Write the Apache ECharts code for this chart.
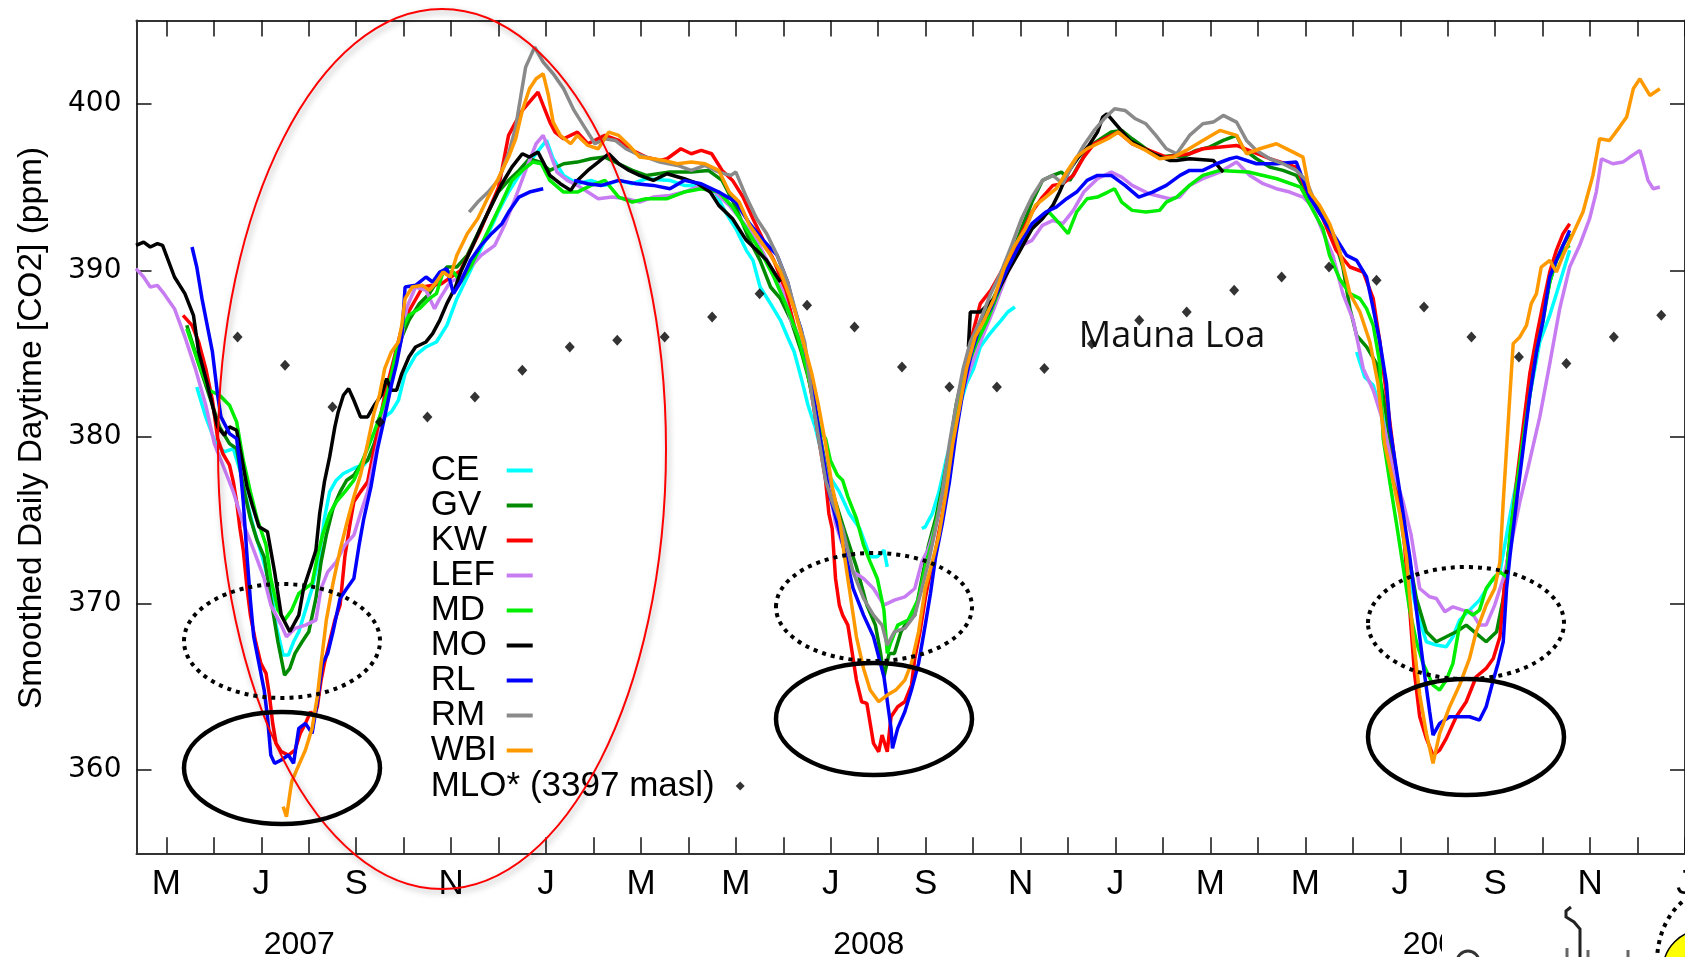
<!DOCTYPE html>
<html>
<head>
<meta charset="utf-8">
<script src="https://cdn.jsdelivr.net/npm/echarts@6/dist/echarts.min.js"></script>
<style>
html,body{margin:0;padding:0;background:#fff;}
#chart{width:1685px;height:957px;}
</style>
</head>
<body>
<div id="chart"></div>
<script>
// x values: months since 1 Jan 2007 (4 = May 2007, 36 = Jan 2010); y values: CO2 ppm
const monthLetters = ['J','F','M','A','M','J','J','A','S','O','N','D'];
const monthTicks = [4,5,6,7,8,9,10,11,12,13,14,15,16,17,18,19,20,21,22,23,24,25,26,27,28,29,30,31,32,33,34,35,36];
const monthLabels = [4,6,8,10,12,14,16,18,20,22,24,26,28,30,32,34,36];
const yearPositions = [6.8, 18.8, 30.8];
const yearLabels = ['2007','2008','2009'];
const ppmTicks = [360,370,380,390,400];

const stationNames = ['CE','GV','KW','LEF','MD','MO','RL','RM','WBI'];
const stationColors = ['#00ffff','#008a00','#ff0000','#c77cf2','#00ee00','#000000','#0000ff','#8a8a8a','#ff9900'];
const mloName = 'MLO* (3397 masl)';

const CE = [[4.64,383.0],[4.83,381.2],[5.04,379.6],[5.22,379.1],[5.41,379.3],[5.55,378.0],[5.70,376.1],[5.84,374.5],[6.02,372.8],[6.20,370.9],[6.31,368.7],[6.46,366.9],[6.57,366.9],[6.68,367.7],[6.79,368.3],[6.93,369.6],[7.07,370.9],[7.22,372.8],[7.33,375.1],[7.44,376.7],[7.58,377.4],[7.73,377.8],[7.87,378.0],[8.02,378.2],[8.16,378.3],[8.31,378.9],[8.45,380.3],[8.60,381.2],[8.74,381.5],[8.89,382.2],[9.03,383.8],[9.25,384.9],[9.47,385.4],[9.69,385.7],[9.91,386.7],[10.12,388.3],[10.34,389.6],[10.56,390.9],[10.78,392.2],[10.99,393.5],[11.21,394.7],[11.43,395.7],[11.65,396.5],[11.87,397.3],[12.01,397.8],[12.15,396.7],[12.37,395.7],[12.66,395.2],[12.95,395.4],[13.24,395.1],[13.53,395.4],[13.82,395.2],[14.11,395.5],[14.61,395.4],[14.91,395.1],[15.27,395.1],[15.56,394.7],[15.78,393.5],[16.00,392.5],[16.22,391.2],[16.36,390.6],[16.51,389.0],[16.73,388.0],[16.94,387.0],[17.09,386.0],[17.23,385.1],[17.38,383.5],[17.52,381.9],[17.67,380.6],[17.81,379.0],[17.96,377.7],[18.18,376.7],[18.39,375.4],[18.61,374.5],[18.83,372.8],[18.98,372.8],[19.12,373.2],[19.19,372.2],[19.5,null],[19.92,374.5],[19.99,374.6],[20.14,375.4],[20.28,376.7],[20.43,378.6],[20.57,380.2],[20.72,381.9],[20.86,383.2],[21.01,384.1],[21.15,385.4],[21.30,386.0],[21.44,386.5],[21.59,387.0],[21.73,387.5],[21.88,387.8],[25.0,null],[29.08,385.1],[29.25,383.6],[29.43,383.1],[29.64,381.2],[29.78,379.3],[29.92,376.7],[30.06,374.1],[30.20,371.5],[30.34,369.6],[30.55,367.7],[30.76,367.5],[30.97,367.4],[31.11,368.0],[31.25,369.0],[31.46,369.6],[31.67,370.2],[31.89,371.2],[32.10,371.9],[32.24,374.1],[32.34,375.7],[32.52,378.3],[32.73,382.5],[32.94,385.7],[33.15,387.3],[33.29,388.6],[33.43,389.9],[33.57,391.2]];

const GV = [[4.43,386.7],[4.68,384.4],[4.90,382.5],[5.12,380.6],[5.33,379.6],[5.48,379.3],[5.62,377.0],[5.77,375.1],[5.91,373.8],[6.06,372.8],[6.20,370.3],[6.35,367.7],[6.49,365.7],[6.60,366.1],[6.71,367.0],[6.86,367.7],[7.00,368.3],[7.15,370.3],[7.26,372.5],[7.37,374.1],[7.51,375.7],[7.66,376.7],[7.80,377.4],[7.95,377.7],[8.09,378.3],[8.24,378.6],[8.38,379.6],[8.53,380.9],[8.67,382.5],[8.82,384.4],[8.96,386.0],[9.11,387.0],[9.33,388.0],[9.54,388.6],[9.76,389.6],[9.91,390.2],[10.12,390.2],[10.34,390.9],[10.56,392.2],[10.78,393.5],[10.99,394.7],[11.21,395.4],[11.43,396.0],[11.65,396.7],[11.87,396.5],[12.08,396.0],[12.37,396.4],[12.66,396.5],[12.95,396.7],[13.24,396.8],[13.53,396.4],[13.82,396.0],[14.11,395.7],[14.61,395.9],[15.06,395.9],[15.42,396.0],[15.71,395.4],[16.00,393.8],[16.29,391.8],[16.51,390.6],[16.73,389.0],[16.94,388.3],[17.16,387.0],[17.38,385.1],[17.56,383.2],[17.74,380.6],[17.89,378.3],[18.10,376.1],[18.32,374.1],[18.54,372.2],[18.76,369.9],[18.94,368.7],[19.05,367.0],[19.12,365.6],[19.23,367.0],[19.34,367.0],[19.48,368.3],[19.63,369.0],[19.77,369.3],[19.92,371.5],[20.06,373.5],[20.21,375.1],[20.35,377.0],[20.50,379.3],[20.64,381.9],[20.79,383.8],[20.94,385.1],[21.15,386.7],[21.37,388.0],[21.59,389.3],[21.81,390.9],[22.02,392.5],[22.24,394.1],[22.46,395.4],[22.68,395.7],[22.86,395.9],[23.04,395.4],[23.26,396.5],[23.48,397.5],[23.69,397.9],[23.91,398.3],[24.13,398.4],[24.35,397.9],[24.64,397.3],[24.93,396.8],[25.22,396.9],[25.42,396.8],[25.70,397.2],[25.98,397.4],[26.27,397.8],[26.55,398.1],[26.69,397.3],[26.97,396.7],[27.25,396.2],[27.53,396.0],[27.81,395.7],[28.09,394.4],[28.37,393.5],[28.58,392.2],[28.79,390.2],[28.94,387.7],[29.08,386.1],[29.29,385.4],[29.50,384.4],[29.64,382.5],[29.78,379.9],[29.92,377.3],[30.06,374.8],[30.20,372.5],[30.34,370.3],[30.55,368.3],[30.76,367.7],[30.97,368.0],[31.18,368.3],[31.39,368.7],[31.60,368.2],[31.81,367.7],[32.03,368.3],[32.17,370.3],[32.27,372.8],[32.45,376.7],[32.59,379.9],[32.73,382.8],[32.87,385.1],[33.01,387.3],[33.15,389.3],[33.29,390.6],[33.43,391.5],[33.57,392.2]];

const KW = [[4.35,387.3],[4.54,386.7],[4.68,385.7],[4.83,384.1],[4.97,382.2],[5.08,379.9],[5.19,379.0],[5.33,378.3],[5.41,377.3],[5.48,376.1],[5.55,374.5],[5.62,373.2],[5.70,370.9],[5.77,369.3],[5.88,367.7],[5.99,366.4],[6.10,365.8],[6.17,364.5],[6.24,362.8],[6.31,361.6],[6.42,361.1],[6.57,360.9],[6.71,361.2],[6.82,362.2],[6.93,362.8],[7.04,363.5],[7.11,363.2],[7.18,363.8],[7.26,365.4],[7.33,366.4],[7.44,367.7],[7.55,369.0],[7.66,369.9],[7.76,372.8],[7.87,374.8],[7.95,376.1],[8.09,376.7],[8.24,377.3],[8.31,378.3],[8.60,382.5],[9.00,387.0],[9.40,389.0],[9.80,389.2],[10.20,390.0],[10.60,392.3],[11.00,395.0],[11.21,398.1],[11.36,398.9],[11.50,399.6],[11.68,400.2],[11.83,400.7],[11.94,399.9],[12.08,398.9],[12.19,398.3],[12.37,397.9],[12.66,398.3],[12.88,397.6],[13.24,398.1],[13.53,397.8],[13.82,397.2],[14.11,396.8],[14.40,396.6],[14.55,396.7],[14.84,397.3],[15.06,397.0],[15.27,397.2],[15.49,397.0],[15.71,396.0],[15.93,395.4],[16.15,394.4],[16.36,393.1],[16.58,391.8],[16.80,390.6],[17.02,389.0],[17.23,386.7],[17.45,384.8],[17.60,382.5],[17.74,380.0],[17.89,377.4],[17.96,375.4],[18.03,374.5],[18.10,371.5],[18.18,369.9],[18.25,369.3],[18.36,368.7],[18.47,366.7],[18.54,365.4],[18.65,364.1],[18.76,364.0],[18.90,361.6],[19.01,361.1],[19.08,362.1],[19.19,361.1],[19.27,363.2],[19.41,363.8],[19.56,364.1],[19.70,365.1],[19.77,366.7],[19.88,368.3],[19.99,370.3],[20.10,371.9],[20.21,373.2],[20.35,375.4],[20.50,378.3],[20.64,381.2],[20.79,383.8],[20.97,386.0],[21.15,388.0],[21.37,388.8],[21.59,389.9],[21.81,390.9],[22.02,392.2],[22.24,393.5],[22.46,394.4],[22.68,395.1],[22.89,395.2],[23.11,395.7],[23.33,396.8],[23.55,397.6],[23.76,397.9],[24.06,398.3],[24.35,397.6],[24.71,397.2],[25.07,396.8],[25.56,397.0],[25.84,397.3],[26.55,397.5],[27.25,396.7],[27.81,396.2],[28.09,394.4],[28.37,393.1],[28.65,391.2],[28.94,390.2],[29.22,389.9],[29.43,388.3],[29.57,385.7],[29.71,382.5],[29.85,379.3],[29.99,376.1],[30.09,373.5],[30.20,369.6],[30.30,365.8],[30.41,363.2],[30.55,361.9],[30.69,360.9],[30.83,361.2],[30.97,361.9],[31.18,363.2],[31.39,364.1],[31.60,365.6],[31.81,366.1],[31.96,366.7],[32.10,368.0],[32.20,371.2],[32.31,373.8],[32.45,377.3],[32.59,380.6],[32.73,383.8],[32.87,386.0],[33.01,388.0],[33.15,389.9],[33.29,391.2],[33.43,392.2],[33.57,392.8]];

const LEF = [[3.36,390.1],[3.52,389.6],[3.66,389.0],[3.81,389.1],[3.95,388.6],[4.17,387.7],[4.39,386.0],[4.61,384.1],[4.83,381.9],[5.01,379.6],[5.19,378.3],[5.41,376.7],[5.62,374.8],[5.84,373.2],[6.06,371.5],[6.20,369.9],[6.42,368.7],[6.53,368.0],[6.71,368.5],[6.93,368.7],[7.15,369.0],[7.26,370.9],[7.40,371.9],[7.58,372.5],[7.76,373.5],[7.95,374.1],[8.09,375.4],[8.24,376.7],[8.38,378.6],[8.53,380.6],[8.67,382.8],[8.82,384.4],[8.96,386.0],[9.07,387.8],[9.25,389.0],[9.47,388.8],[9.65,387.7],[9.76,388.3],[9.98,389.3],[10.20,389.6],[10.41,390.2],[10.63,390.9],[10.92,391.5],[11.14,392.8],[11.36,394.4],[11.57,396.0],[11.79,397.6],[11.94,398.1],[12.05,397.3],[12.23,395.9],[12.45,395.4],[12.66,395.1],[12.88,394.7],[13.10,394.3],[13.39,394.4],[13.68,394.3],[13.97,394.1],[14.26,394.4],[14.61,394.5],[14.91,394.7],[15.27,395.1],[15.56,394.7],[15.86,393.9],[16.15,392.9],[16.44,391.8],[16.73,390.2],[16.98,388.8],[17.16,387.0],[17.38,385.7],[17.52,384.1],[17.67,381.9],[17.81,379.3],[17.96,377.0],[18.10,374.8],[18.25,373.5],[18.47,371.9],[18.69,371.5],[18.90,370.9],[19.12,369.9],[19.34,370.2],[19.56,370.4],[19.77,370.9],[19.92,372.5],[20.06,373.3],[20.25,375.1],[20.43,377.7],[20.61,380.6],[20.75,382.5],[20.94,384.1],[21.15,385.7],[21.44,387.7],[21.73,389.9],[22.02,391.5],[22.24,391.8],[22.46,392.7],[22.68,393.0],[22.89,392.8],[23.11,393.6],[23.33,394.7],[23.62,395.5],[23.91,395.9],[24.13,395.6],[24.35,395.1],[24.71,394.6],[25.14,394.3],[25.35,394.4],[25.56,395.1],[25.84,395.5],[26.20,395.9],[26.55,396.5],[26.83,395.7],[27.11,395.2],[27.39,394.9],[27.67,394.7],[27.95,394.4],[28.16,393.8],[28.37,392.3],[28.58,390.9],[28.79,388.6],[29.01,387.0],[29.22,384.1],[29.43,382.8],[29.64,380.9],[29.85,378.0],[30.06,376.1],[30.23,374.1],[30.41,370.9],[30.62,370.4],[30.76,370.3],[30.94,369.5],[31.11,369.8],[31.32,369.6],[31.50,369.5],[31.67,368.7],[31.81,368.7],[31.99,369.9],[32.17,371.5],[32.31,373.2],[32.52,376.1],[32.73,378.6],[32.94,381.2],[33.15,384.4],[33.36,387.7],[33.57,390.2],[33.78,391.5],[33.99,393.1],[34.13,394.7],[34.24,396.7],[34.48,396.4],[34.69,396.5],[34.84,396.8],[35.05,397.2],[35.12,396.5],[35.22,395.4],[35.33,394.9],[35.47,395.0]];

const MD = [[4.43,386.5],[4.68,384.4],[4.90,382.8],[5.12,382.5],[5.33,381.9],[5.48,380.9],[5.62,378.6],[5.77,376.7],[5.91,375.1],[6.10,373.5],[6.20,371.5],[6.35,369.6],[6.49,369.0],[6.64,369.6],[6.79,370.6],[6.93,370.9],[7.07,371.2],[7.18,372.8],[7.29,374.1],[7.44,375.4],[7.58,376.1],[7.76,376.7],[7.95,377.4],[8.09,378.3],[8.24,379.3],[8.38,380.3],[8.53,381.5],[8.67,382.8],[8.82,384.8],[8.96,386.4],[9.11,387.3],[9.33,387.7],[9.54,388.3],[9.69,388.6],[9.83,389.9],[10.05,389.9],[10.20,389.3],[10.41,390.2],[10.63,391.5],[10.85,392.8],[11.07,394.1],[11.28,395.4],[11.50,396.0],[11.72,396.5],[11.90,396.4],[12.08,395.4],[12.37,394.7],[12.66,394.7],[12.95,395.1],[13.24,395.4],[13.53,394.4],[13.82,394.1],[14.11,394.3],[14.55,394.3],[14.91,394.7],[15.27,394.9],[15.64,394.7],[15.93,393.8],[16.22,392.5],[16.51,391.2],[16.80,389.6],[17.09,387.7],[17.31,386.0],[17.49,384.1],[17.63,382.2],[17.78,380.3],[17.89,379.9],[17.99,378.6],[18.14,377.7],[18.25,377.4],[18.36,376.4],[18.54,375.1],[18.69,373.5],[18.83,372.5],[18.98,371.5],[19.12,369.6],[19.19,367.0],[19.27,367.7],[19.41,368.7],[19.63,369.0],[19.85,370.3],[19.99,372.2],[20.14,373.8],[20.28,375.7],[20.43,378.0],[20.57,380.6],[20.72,382.5],[20.86,384.1],[21.08,385.7],[21.30,387.0],[21.52,388.6],[21.73,390.2],[21.95,391.2],[22.17,392.2],[22.39,393.1],[22.60,393.5],[22.82,392.8],[23.00,392.2],[23.18,393.5],[23.40,394.3],[23.62,394.4],[23.84,394.7],[23.98,394.9],[24.13,394.1],[24.35,393.6],[24.64,393.5],[24.93,393.6],[25.07,394.1],[25.29,394.4],[25.56,395.1],[25.84,395.7],[26.20,396.0],[26.80,395.9],[27.40,395.5],[27.90,395.0],[28.37,392.5],[28.51,390.9],[28.72,389.5],[28.94,388.6],[29.15,388.3],[29.29,387.7],[29.43,386.7],[29.57,384.4],[29.64,379.9],[29.78,377.3],[29.92,374.8],[30.06,372.2],[30.20,369.6],[30.34,367.7],[30.48,366.4],[30.69,365.1],[30.83,364.8],[30.97,365.4],[31.11,366.4],[31.25,368.7],[31.39,369.6],[31.53,369.3],[31.67,369.6],[31.81,370.9],[31.96,371.5],[32.10,371.9],[32.24,371.6],[32.31,374.1],[32.45,377.0],[32.59,379.9],[32.73,382.5],[32.87,385.1],[33.01,387.0],[33.15,389.3],[33.29,390.6],[33.43,391.2],[33.57,391.5]];

const MO = [[3.36,391.5],[3.52,391.7],[3.66,391.4],[3.81,391.6],[3.92,391.5],[4.17,389.6],[4.39,388.6],[4.57,387.3],[4.68,385.1],[4.86,383.2],[5.08,380.6],[5.22,380.1],[5.33,380.6],[5.48,380.4],[5.55,379.3],[5.70,377.0],[5.81,375.9],[5.95,374.6],[6.13,374.3],[6.28,371.9],[6.42,369.3],[6.60,368.3],[6.79,369.3],[6.89,370.9],[7.04,372.2],[7.15,373.2],[7.23,375.4],[7.33,377.3],[7.44,378.8],[7.55,380.6],[7.62,381.5],[7.73,382.5],[7.84,382.9],[7.95,382.2],[8.09,381.2],[8.24,381.2],[8.38,381.9],[8.53,382.5],[8.64,383.5],[8.74,382.8],[8.85,382.8],[8.96,383.8],[9.11,384.8],[9.25,385.4],[9.47,385.7],[9.61,386.2],[9.76,387.0],[9.91,388.0],[10.09,389.0],[10.20,389.9],[10.41,391.2],[10.63,392.6],[10.85,393.9],[11.07,395.2],[11.28,396.2],[11.50,397.0],[11.65,396.8],[11.83,397.1],[11.94,396.5],[12.08,395.7],[12.30,395.2],[12.52,394.8],[12.66,395.4],[12.88,396.0],[13.10,396.5],[13.32,397.0],[13.53,396.4],[13.75,396.0],[13.97,395.7],[14.26,395.4],[14.55,395.8],[14.91,395.5],[15.20,395.2],[15.46,394.7],[15.64,393.9],[15.93,393.1],[16.22,391.8],[16.44,391.2],[16.65,390.6],[16.87,389.6],[16.94,389.3],[18.9,null],[20.90,385.4],[20.94,387.5],[21.15,387.5],[21.44,388.3],[21.73,389.9],[21.99,391.2],[22.24,392.5],[22.46,393.1],[22.68,393.9],[22.82,394.7],[23.00,395.9],[23.22,396.8],[23.44,397.5],[23.62,398.3],[23.73,399.2],[23.82,399.4],[24.30,397.8],[24.80,397.0],[25.14,396.6],[25.28,396.6],[25.56,396.7],[26.06,396.6],[26.27,395.9]];

const RL = [[4.54,391.4],[4.64,390.2],[4.75,388.3],[4.86,386.7],[4.97,385.1],[5.08,382.5],[5.15,381.2],[5.33,380.2],[5.48,379.9],[5.55,378.3],[5.62,376.1],[5.70,372.8],[5.77,370.2],[5.84,368.0],[5.95,366.4],[6.06,364.8],[6.13,363.2],[6.20,360.9],[6.28,360.4],[6.42,360.6],[6.57,360.9],[6.68,360.4],[6.79,362.5],[6.93,362.8],[7.07,362.2],[7.18,364.1],[7.29,366.4],[7.40,367.0],[7.51,368.3],[7.66,370.3],[7.80,370.9],[7.95,371.5],[8.06,373.5],[8.16,375.1],[8.31,377.0],[8.45,379.3],[8.60,381.2],[8.74,383.1],[8.85,384.4],[8.96,386.0],[9.03,389.0],[9.25,389.1],[9.47,389.6],[9.61,389.3],[9.76,389.9],[9.91,390.1],[10.05,388.6],[10.20,389.3],[10.41,390.6],[10.63,391.5],[10.85,392.2],[11.07,392.8],[11.21,393.5],[11.43,394.4],[11.65,394.7],[11.94,394.9],[12.2,null],[12.59,395.4],[12.88,395.2],[13.17,395.1],[13.53,395.4],[13.90,395.2],[14.26,395.1],[14.61,394.9],[14.91,395.4],[15.27,395.2],[15.64,394.7],[16.00,394.1],[16.29,392.8],[16.58,391.8],[16.87,390.9],[17.09,389.3],[17.23,387.7],[17.38,386.4],[17.52,384.4],[17.67,381.9],[17.81,379.3],[17.96,376.7],[18.14,374.8],[18.32,372.8],[18.47,370.9],[18.69,369.3],[18.90,368.0],[19.12,365.6],[19.27,362.5],[19.30,361.3],[19.41,362.5],[19.56,363.5],[19.70,364.8],[19.85,366.4],[19.99,368.7],[20.10,370.6],[20.21,372.8],[20.35,374.8],[20.50,377.3],[20.64,380.2],[20.79,382.8],[20.97,385.1],[21.15,386.7],[21.37,387.7],[21.59,389.3],[21.81,390.6],[22.02,391.8],[22.24,392.8],[22.53,393.5],[22.75,393.8],[22.97,394.3],[23.18,394.7],[23.40,395.4],[23.62,395.7],[23.91,395.7],[24.20,395.1],[24.49,394.4],[24.78,394.7],[25.07,395.1],[25.36,395.7],[25.56,396.0],[25.84,396.0],[26.13,396.4],[26.41,396.7],[26.55,396.8],[26.97,396.4],[27.39,396.4],[27.81,396.5],[28.09,394.4],[28.44,392.8],[28.65,391.9],[28.87,390.9],[29.08,390.6],[29.29,389.6],[29.43,387.7],[29.57,385.7],[29.71,383.2],[29.78,380.6],[29.92,378.0],[30.06,375.4],[30.20,372.8],[30.34,369.6],[30.48,366.4],[30.62,363.5],[30.69,362.1],[30.83,362.8],[31.04,363.2],[31.25,363.2],[31.46,363.2],[31.67,363.0],[31.81,363.8],[31.96,365.4],[32.06,366.4],[32.17,367.7],[32.24,370.9],[32.31,372.8],[32.45,376.1],[32.59,379.3],[32.73,382.5],[32.87,385.1],[33.01,387.0],[33.15,389.6],[33.29,390.6],[33.43,391.5],[33.57,392.4]];

const RM = [[10.38,393.5],[10.56,394.1],[10.78,394.7],[10.99,395.4],[11.21,397.0],[11.36,398.6],[11.47,400.5],[11.57,402.2],[11.76,403.4],[11.94,402.5],[12.15,401.8],[12.37,400.9],[12.59,399.6],[12.81,398.6],[13.03,397.6],[13.24,397.9],[13.46,397.8],[13.68,397.3],[13.90,397.0],[14.11,396.8],[14.40,396.5],[14.77,396.3],[15.06,396.0],[15.35,396.3],[15.64,395.9],[15.89,395.7],[16.00,395.9],[16.22,394.4],[16.44,393.1],[16.65,392.2],[16.87,390.9],[17.09,389.3],[17.31,387.0],[17.45,385.7],[17.60,382.5],[17.74,380.0],[17.89,377.4],[18.03,376.1],[18.25,374.5],[18.47,371.9],[18.69,370.3],[18.90,369.3],[19.08,368.7],[19.19,367.5],[19.34,368.3],[19.56,368.5],[19.77,369.3],[19.92,370.9],[20.06,372.5],[20.21,374.5],[20.35,376.7],[20.50,379.6],[20.64,381.9],[20.79,384.1],[20.94,385.7],[21.15,387.0],[21.37,388.6],[21.59,389.9],[21.81,391.5],[22.02,393.1],[22.24,394.4],[22.46,395.4],[22.68,395.7],[22.89,395.2],[23.11,396.4],[23.33,397.5],[23.55,398.4],[23.76,399.1],[23.98,399.7],[24.20,399.6],[24.42,399.1],[24.64,398.8],[24.85,398.1],[25.07,397.3],[25.29,397.0],[25.56,398.1],[25.84,398.8],[26.06,398.9],[26.27,399.3],[26.55,398.9],[26.76,397.8],[26.97,397.2],[27.25,396.7],[27.53,396.4],[27.81,396.0],[28.02,395.4],[28.16,394.4]];

const WBI = [[6.46,357.8],[6.53,357.2],[6.64,359.3],[6.79,360.3],[6.93,361.2],[7.07,362.5],[7.18,364.4],[7.26,366.4],[7.37,369.0],[7.51,371.2],[7.66,373.2],[7.80,374.8],[7.95,376.4],[8.09,377.7],[8.24,379.6],[8.38,381.5],[8.49,382.5],[8.60,384.1],[8.74,385.1],[8.89,385.7],[8.96,386.7],[9.03,388.3],[9.18,389.0],[9.40,389.1],[9.54,388.8],[9.69,389.3],[9.83,389.9],[9.98,389.6],[10.12,390.9],[10.34,392.2],[10.56,393.1],[10.78,394.4],[10.99,395.5],[11.21,396.8],[11.36,397.9],[11.50,399.6],[11.65,400.9],[11.79,401.5],[11.94,401.8],[12.05,400.5],[12.15,398.9],[12.30,398.1],[12.52,397.6],[12.66,398.1],[12.88,397.5],[13.10,397.3],[13.32,398.3],[13.53,398.1],[13.75,397.5],[13.97,396.8],[14.26,396.7],[14.48,396.6],[14.77,396.4],[15.06,396.5],[15.35,396.4],[15.64,396.0],[15.86,394.7],[16.07,394.1],[16.29,392.7],[16.51,391.8],[16.73,390.9],[16.94,389.9],[17.23,387.7],[17.45,385.4],[17.60,383.8],[17.74,381.9],[17.89,379.6],[18.03,377.0],[18.18,375.1],[18.29,372.8],[18.39,370.9],[18.54,368.0],[18.69,366.1],[18.83,364.8],[19.01,364.1],[19.19,364.5],[19.37,364.8],[19.56,365.4],[19.70,366.4],[19.85,368.3],[19.99,370.9],[20.14,372.5],[20.28,374.1],[20.43,376.7],[20.57,379.6],[20.72,381.9],[20.86,384.1],[21.04,386.0],[21.23,387.0],[21.44,388.3],[21.66,390.2],[21.88,391.5],[22.10,392.5],[22.31,393.9],[22.53,394.4],[22.75,394.9],[22.97,395.9],[23.18,396.8],[23.40,397.3],[23.62,397.6],[23.84,397.9],[24.06,398.3],[24.35,397.6],[24.64,397.2],[24.93,396.7],[25.22,396.8],[25.49,397.2],[25.84,397.8],[26.20,398.4],[26.55,398.1],[26.76,397.0],[27.04,397.3],[27.39,397.6],[27.67,397.2],[27.95,396.8],[28.09,394.7],[28.30,393.9],[28.51,392.8],[28.72,391.2],[28.94,388.6],[29.15,387.5],[29.36,385.7],[29.53,383.2],[29.67,379.6],[29.85,377.3],[29.99,375.4],[30.13,372.8],[30.27,368.0],[30.41,364.5],[30.55,362.2],[30.69,360.4],[30.83,362.2],[31.04,363.8],[31.25,365.1],[31.46,366.7],[31.60,368.3],[31.81,369.9],[31.99,370.9],[32.10,372.5],[32.17,376.1],[32.24,379.3],[32.31,382.5],[32.38,385.6],[32.52,386.0],[32.66,386.7],[32.76,388.0],[32.87,388.6],[32.97,390.2],[33.15,390.6],[33.29,389.9],[33.43,390.9],[33.64,392.2],[33.85,393.5],[34.06,395.7],[34.20,397.9],[34.41,397.8],[34.62,398.6],[34.77,399.2],[34.91,400.9],[35.05,401.5],[35.26,400.5],[35.47,400.9]];

const MLO = [[5.5,386.0],[6.5,384.3],[7.5,381.8],[8.5,380.9],[9.5,381.2],[10.5,382.4],[11.5,384.0],[12.5,385.4],[13.5,385.8],[14.5,386.0],[15.5,387.2],[16.5,388.6],[17.5,387.9],[18.5,386.6],[19.5,384.2],[20.5,383.0],[21.5,383.0],[22.5,384.1],[23.5,385.6],[24.5,387.0],[25.5,387.5],[26.5,388.8],[27.5,389.6],[28.5,390.2],[29.5,389.4],[30.5,387.8],[31.5,386.0],[32.5,384.8],[33.5,384.4],[34.5,386.0],[35.5,387.3]];

const stationData = [CE, GV, KW, LEF, MD, MO, RL, RM, WBI];

const X_MIN = 3.37, X_MAX = 36, Y_MIN = 355, Y_MAX = 405;
const FONT = '"Liberation Sans", Arial, Helvetica, sans-serif';

const chart = echarts.init(document.getElementById('chart'), null, {renderer: 'canvas'});

const axisLineStyle = {color: '#333', width: 2};
const tickStyle = {color: '#111', width: 1.5};

const series = stationNames.map((name, i) => ({
  name: name,
  type: 'line',
  data: stationData[i],
  showSymbol: false,
  symbol: 'none',
  connectNulls: false,
  lineStyle: {width: 3.5, color: stationColors[i]},
  itemStyle: {color: stationColors[i]},
  z: 2 + i,
  animation: false
}));
series.push({
  name: mloName,
  type: 'scatter',
  data: MLO,
  symbol: 'diamond',
  symbolSize: [10, 11],
  itemStyle: {color: '#000'},
  z: 20,
  animation: false
});

const legendRich = (w) => ({t: {width: w, align: 'left', fontSize: 35, fontFamily: FONT, color: '#000', lineHeight: 35.2}});

const option = {
  animation: false,
  backgroundColor: '#fff',
  grid: {left: 136.5, right: 0, top: 20.5, bottom: 103.7, containLabel: false, outerBoundsMode: 'none'},
  xAxis: [
    {
      type: 'value', min: X_MIN, max: X_MAX, position: 'bottom',
      axisLine: {show: true, lineStyle: axisLineStyle},
      axisTick: {show: true, inside: true, length: 16, customValues: monthTicks, lineStyle: tickStyle},
      axisLabel: {show: true, customValues: monthLabels, formatter: v => monthLetters[Math.round(v) % 12],
        fontSize: 35, fontFamily: FONT, color: '#000', margin: 14},
      splitLine: {show: false}
    },
    {
      type: 'value', min: X_MIN, max: X_MAX, position: 'top',
      axisLine: {show: true, lineStyle: axisLineStyle},
      axisTick: {show: true, inside: true, length: 16, customValues: monthTicks, lineStyle: tickStyle},
      axisLabel: {show: false},
      splitLine: {show: false}
    },
    {
      type: 'value', min: X_MIN, max: X_MAX, position: 'bottom',
      axisLine: {show: false}, axisTick: {show: false},
      axisLabel: {show: true, customValues: yearPositions,
        formatter: v => yearLabels[yearPositions.indexOf(v)],
        fontSize: 32, fontFamily: FONT, color: '#000', margin: 76},
      splitLine: {show: false}
    }
  ],
  yAxis: [
    {
      type: 'value', min: Y_MIN, max: Y_MAX, position: 'left',
      axisLine: {show: true, lineStyle: axisLineStyle},
      axisTick: {show: true, inside: true, length: 15, customValues: ppmTicks, lineStyle: tickStyle},
      axisLabel: {show: true, customValues: ppmTicks, fontSize: 28, fontFamily: '"DejaVu Sans", Verdana, sans-serif', color: '#000', margin: 15},
      splitLine: {show: false}
    },
    {
      type: 'value', min: Y_MIN, max: Y_MAX, position: 'right',
      axisLine: {show: true, lineStyle: axisLineStyle},
      axisTick: {show: true, inside: true, length: 15, customValues: ppmTicks, lineStyle: tickStyle},
      axisLabel: {show: false},
      splitLine: {show: false}
    }
  ],
  legend: [
    {
      data: stationNames, orient: 'vertical', left: 430.7, top: 453, align: 'right',
      icon: 'rect', itemWidth: 26, itemHeight: 4, itemGap: 0, padding: 0, selectedMode: false,
      formatter: n => '{t|' + n + '}',
      textStyle: {rich: legendRich(71)}
    },
    {
      data: [mloName], orient: 'vertical', left: 430.7, top: 768.5, align: 'right',
      icon: 'diamond', itemWidth: 9, itemHeight: 9, itemGap: 0, padding: 0, selectedMode: false,
      itemStyle: {color: '#000'},
      formatter: n => '{t|' + n + '}',
      textStyle: {rich: legendRich(300)}
    }
  ],
  series: series,
  graphic: [
    {type: 'text', z: 50, rotation: Math.PI / 2, x: 32, y: 428,
      style: {text: 'Smoothed Daily Daytime [CO2] (ppm)', font: '33.5px ' + FONT, fill: '#000', align: 'center', verticalAlign: 'middle'}},
    {type: 'text', z: 50, x: 1078.8, y: 337,
      style: {text: 'Mauna Loa', font: '36px "Open Sans", sans-serif', fill: '#111', align: 'left', verticalAlign: 'middle'}},
    {type: 'ellipse', z: 60, shape: {cx: 442, cy: 449, rx: 224, ry: 440},
      style: {fill: 'none', stroke: '#ff0000', lineWidth: 2, shadowBlur: 6, shadowColor: 'rgba(0,0,0,0.35)', shadowOffsetX: 2, shadowOffsetY: 3}},
    {type: 'ellipse', z: 60, shape: {cx: 282, cy: 641, rx: 98, ry: 57},
      style: {fill: 'none', stroke: '#000', lineWidth: 4, lineDash: [4, 5]}},
    {type: 'ellipse', z: 60, shape: {cx: 282, cy: 768, rx: 98, ry: 56},
      style: {fill: 'none', stroke: '#000', lineWidth: 4.5}},
    {type: 'ellipse', z: 60, shape: {cx: 874, cy: 607, rx: 98, ry: 54},
      style: {fill: 'none', stroke: '#000', lineWidth: 4, lineDash: [4, 5]}},
    {type: 'ellipse', z: 60, shape: {cx: 874, cy: 719, rx: 98, ry: 56},
      style: {fill: 'none', stroke: '#000', lineWidth: 4.5}},
    {type: 'ellipse', z: 60, shape: {cx: 1466, cy: 623, rx: 98, ry: 56},
      style: {fill: 'none', stroke: '#000', lineWidth: 4, lineDash: [4, 5]}},
    {type: 'ellipse', z: 60, shape: {cx: 1466, cy: 737, rx: 98, ry: 58},
      style: {fill: 'none', stroke: '#000', lineWidth: 4.5}},
    {type: 'rect', z: 70, shape: {x: 1442, y: 921, width: 243, height: 36}, style: {fill: '#fff'}},
    {type: 'ellipse', z: 71, shape: {cx: 1713, cy: 962, rx: 56, ry: 72},
      style: {fill: 'none', stroke: '#000', lineWidth: 4, lineDash: [4, 5]}},
    {type: 'circle', z: 72, shape: {cx: 1703, cy: 970, r: 40}, style: {fill: '#ffff00', stroke: '#000', lineWidth: 1.5}},
    {type: 'polyline', z: 72, shape: {points: [[1571, 907], [1566, 911], [1566, 917], [1574, 922], [1580, 929], [1580, 957]]},
      style: {fill: 'none', stroke: '#222', lineWidth: 3}},
    {type: 'line', z: 72, shape: {x1: 1567, y1: 948, x2: 1567, y2: 957}, style: {stroke: '#666', lineWidth: 3}},
    {type: 'line', z: 72, shape: {x1: 1588, y1: 950, x2: 1588, y2: 957}, style: {stroke: '#666', lineWidth: 3}},
    {type: 'line', z: 72, shape: {x1: 1628, y1: 950, x2: 1628, y2: 957}, style: {stroke: '#666', lineWidth: 3}},
    {type: 'arc', z: 72, shape: {cx: 1468, cy: 962, r: 11, startAngle: Math.PI, endAngle: 2 * Math.PI},
      style: {fill: 'none', stroke: '#333', lineWidth: 3}}
  ]
};
chart.setOption(option);
</script>
</body>
</html>
